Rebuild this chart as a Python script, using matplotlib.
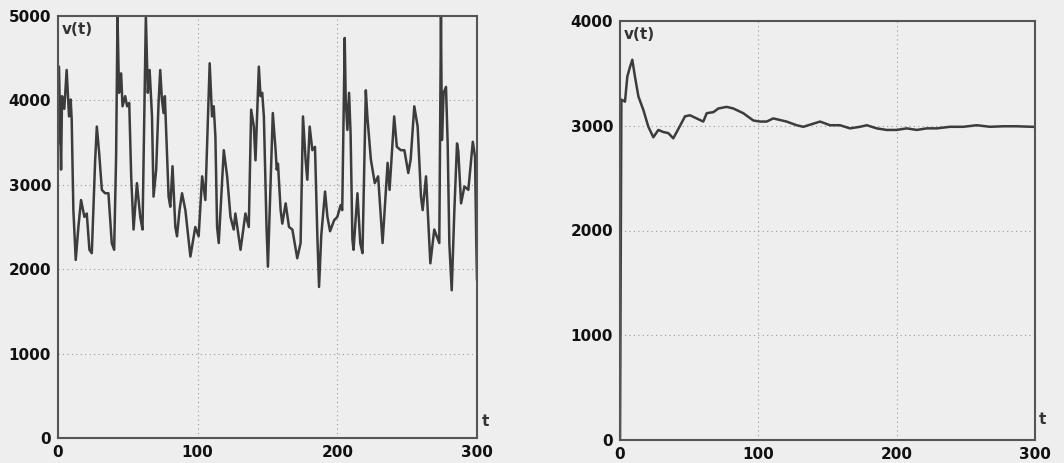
"""Two panels: instantaneous rate v(t) (left) and its running average (right)."""
import matplotlib

matplotlib.use("Agg")
import matplotlib.pyplot as plt

# left panel: v(t)
left_t = [0, 0.7, 2.2, 2.9, 4.5, 6.2, 7.9, 9.1, 9.8, 11.0, 12.7, 14.6, 16.5, 18.9,
          20.6, 22.5, 24.2, 26.6, 27.8, 29.5, 31.4, 33.7, 36.1, 38.5, 40.2, 41.6,
          42.6, 43.7, 45.2, 46.2, 48.1, 49.5, 51.0, 52.4, 54.1, 56.5, 58.9, 60.5,
          61.9, 62.9, 64.3, 65.6, 67.3, 68.4, 70.3, 72.0, 73.2, 74.4, 75.6, 76.5,
          78.0, 79.2, 80.4, 82.0, 84.0, 85.2, 87.0, 88.8, 91.2, 94.8, 98.3, 100.7,
          103.2, 105.5, 108.6, 110.3, 111.5, 112.7, 113.9, 115.1, 118.7, 121.1,
          123.5, 125.8, 127.0, 130.7, 134.2, 136.6, 138.3, 140.2, 141.4, 143.8,
          145.0, 146.2, 147.4, 149.3, 150.3, 153.8, 155.8, 156.6, 157.5, 159.4,
          160.6, 163.0, 165.4, 167.8, 171.3, 173.7, 175.4, 177.3, 178.5, 180.2,
          182.1, 184.0, 185.7, 186.9, 188.5, 191.2, 192.9, 194.8, 197.7, 200.0,
          202.4, 203.5, 205.3, 206.0, 207.2, 208.4, 209.5, 210.8, 211.6, 214.4,
          216.4, 218.0, 220.4, 221.5, 224.0, 226.8, 229.2, 232.4, 236.0, 237.4,
          240.7, 242.6, 245.5, 248.0, 250.8, 252.5, 255.1, 257.5, 259.9, 261.1,
          263.5, 266.6, 269.4, 273.0, 274.2, 274.9, 276.1, 277.8, 279.0, 280.2,
          281.9, 283.8, 285.7, 286.6, 288.6, 291.0, 293.8, 297.0, 298.6, 299.5,
          300.0]
left_v = [3490, 4400, 3180, 4050, 3900, 4360, 3810, 4010, 3770, 2700, 2110, 2500,
          2820, 2620, 2660, 2230, 2190, 3290, 3690, 3370, 2940, 2900, 2900, 2310,
          2230, 3330, 5000, 4090, 4320, 3930, 4050, 3930, 3970, 3100, 2470, 3020,
          2620, 2470, 3930, 5000, 4090, 4360, 3810, 2860, 3180, 3970, 4360, 4010,
          3850, 4050, 3400, 2860, 2740, 3220, 2500, 2390, 2700, 2900, 2700, 2150,
          2500, 2390, 3100, 2820, 4440, 3810, 3930, 3570, 2500, 2310, 3410, 3100,
          2620, 2470, 2660, 2230, 2660, 2500, 3890, 3690, 3290, 4400, 4050, 4090,
          3810, 2500, 2030, 3850, 3410, 3180, 3250, 2700, 2540, 2780, 2500, 2470,
          2130, 2310, 3810, 3290, 3060, 3690, 3410, 3450, 2390, 1790, 2400, 2920,
          2620, 2450, 2580, 2620, 2760, 2700, 4740, 4010, 3650, 4090, 3600, 2350,
          2230, 2900, 2310, 2190, 4120, 3810, 3300, 3020, 3100, 2310, 3260, 2940,
          3810, 3450, 3410, 3410, 3140, 3300, 3930, 3690, 2860, 2700, 3100, 2070,
          2470, 2310, 5000, 3530, 4090, 4160, 3490, 2300, 1750, 2700, 3490, 3400,
          2780, 2980, 2940, 3510, 3330, 2300, 1880]

# right panel: running average of v(t)
right_t = [0, 1, 3.6, 5.3, 7.2, 8.9, 10.8, 13.3, 16.9, 20.5, 24.1, 27.7, 31.3,
           34.9, 38.5, 42.2, 47.0, 50.6, 55.4, 60.2, 62.7, 67.5, 71.1, 77.1, 81.9,
           89.1, 96.4, 101.2, 106.0, 110.8, 115.6, 120.4, 127.7, 132.5, 139.8,
           144.6, 151.8, 159.0, 166.3, 173.5, 178.4, 185.6, 192.8, 200.0, 207.3,
           214.5, 221.7, 229.0, 238.6, 248.2, 257.9, 267.5, 277.1, 286.8, 297.7,
           300.0]
right_v = [0, 3250, 3230, 3470, 3560, 3630, 3470, 3280, 3150, 2990, 2890, 2960,
           2940, 2930, 2880, 2970, 3090, 3100, 3070, 3040, 3120, 3130, 3165, 3180,
           3165, 3120, 3050, 3040, 3040, 3070, 3055, 3040, 3005, 2990, 3020, 3040,
           3005, 3005, 2975, 2990, 3005, 2975, 2960, 2960, 2975, 2960, 2975, 2975,
           2990, 2990, 3005, 2990, 2995, 2995, 2990, 2990]

x_ticks = [0, 100, 200, 300]
left_yticks = [0, 1000, 2000, 3000, 4000, 5000]
right_yticks = [0, 1000, 2000, 3000, 4000]

BG = "#eeeeee"
LINE = "#3c3c3c"
FONT = {"family": "DejaVu Sans", "weight": "bold", "size": 11}


def style_panel(ax, yticks, ymax, t_xy):
    ax.set_facecolor(BG)
    ax.set_xlim(0, 300)
    ax.set_ylim(0, ymax)
    ax.set_xticks(x_ticks)
    ax.set_yticks(yticks)
    ax.set_xticklabels([str(v) for v in x_ticks], fontdict=FONT)
    ax.set_yticklabels([str(v) for v in yticks], fontdict=FONT)
    ax.tick_params(length=0, pad=5, colors="#111111")
    ax.grid(True, color="#9a9a9a", lw=0.8, ls=(0, (1, 3)))
    for sp in ax.spines.values():
        sp.set_color("#555555")
        sp.set_linewidth(1.5)
    ax.text(0.008, 0.985, "v(t)", transform=ax.transAxes, ha="left", va="top",
            color="#333333", **FONT)
    ax.text(t_xy[0], t_xy[1], "t", transform=ax.transAxes, ha="left", va="center",
            color="#333333", **FONT)


fig = plt.figure(figsize=(10.64, 4.63), dpi=100, facecolor=BG)
ax_l = fig.add_axes([58 / 1064, 25 / 463, 419 / 1064, 422 / 463])
ax_r = fig.add_axes([620 / 1064, 23 / 463, 415 / 1064, 419 / 463])

ax_l.plot(left_t, left_v, color=LINE, lw=1.8)
style_panel(ax_l, left_yticks, 5000, (1.012, 0.04))

ax_r.plot(right_t, right_v, color=LINE, lw=1.8)
style_panel(ax_r, right_yticks, 4000, (1.008, 0.05))

fig.savefig("out.png", dpi=100, facecolor=BG)
